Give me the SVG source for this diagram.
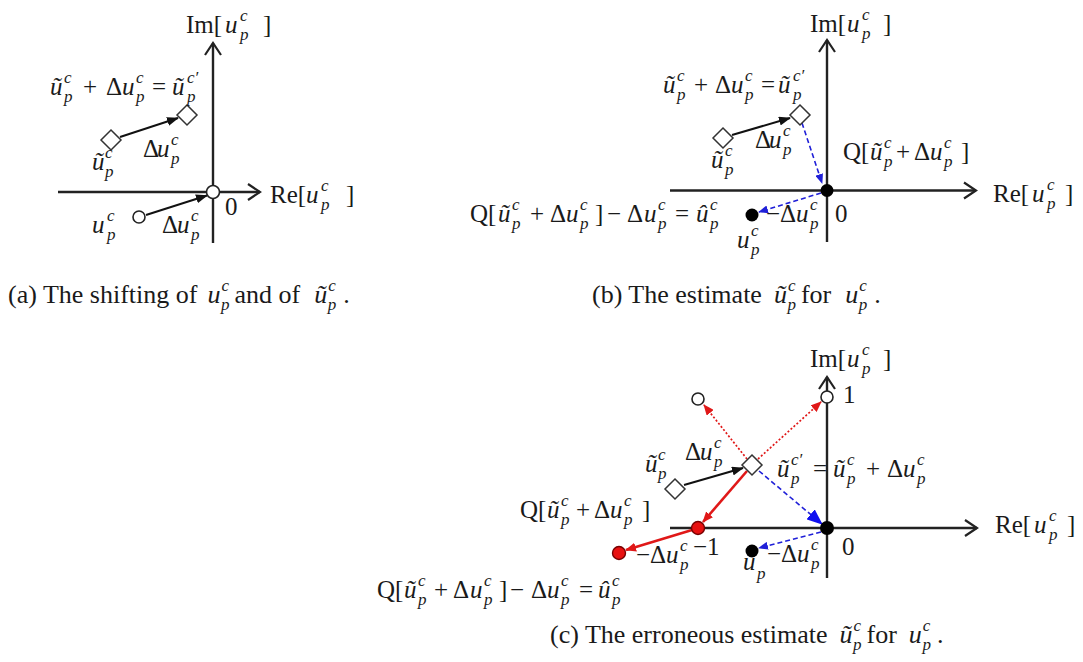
<svg xmlns="http://www.w3.org/2000/svg" width="1083" height="662" viewBox="0 0 1083 662">
<style>
.t{font-family:"Liberation Serif","Times New Roman",serif;font-size:25px;fill:#1a1a1a}
.cap{font-size:26px}
.i{font-style:italic}
.s{font-size:17px;font-style:italic}
.ax{stroke:#222;stroke-width:2.4;fill:none;marker-end:url(#axh)}
.ar{stroke:#111;stroke-width:2;fill:none;marker-end:url(#ahk)}
.bd{stroke:#2020d8;stroke-width:1.6;stroke-dasharray:5 3;fill:none}
.rd{stroke:#e01818;stroke-width:1.7;stroke-dasharray:2 2;fill:none;marker-end:url(#ahr)}
.rs{stroke:#e01818;stroke-width:2.6;fill:none;marker-end:url(#ahr)}
.dm{fill:#fff;stroke:#333;stroke-width:1.5}
.oc{fill:#fff;stroke:#222;stroke-width:1.6}
.bk{fill:#000}
.rdot{fill:#e81010;stroke:#700;stroke-width:1.4}
</style>
<defs>
<marker id="axh" markerUnits="userSpaceOnUse" markerWidth="16" markerHeight="20" viewBox="-2 -2 16 20" refX="12" refY="8" orient="auto" overflow="visible"><path d="M0,0 L12,8 L0,16" fill="none" stroke="#222" stroke-width="2.2"/></marker>
<marker id="ahk" markerUnits="userSpaceOnUse" markerWidth="12" markerHeight="9" viewBox="0 0 12 9" refX="11" refY="4.5" orient="auto"><path d="M0,0 L12,4.5 L0,9 z" fill="#111"/></marker>
<marker id="ahb" markerUnits="userSpaceOnUse" markerWidth="10" markerHeight="8" viewBox="0 0 10 8" refX="9" refY="4" orient="auto"><path d="M0,0 L10,4 L0,8 z" fill="#2020d8"/></marker>
<marker id="ahB" markerUnits="userSpaceOnUse" markerWidth="16" markerHeight="13" viewBox="0 0 16 13" refX="15" refY="6.5" orient="auto"><path d="M0,0 L16,6.5 L0,13 z" fill="#1010f0"/></marker>
<marker id="ahr" markerUnits="userSpaceOnUse" markerWidth="11" markerHeight="9" viewBox="0 0 11 9" refX="10" refY="4.5" orient="auto"><path d="M0,0 L11,4.5 L0,9 z" fill="#e01818"/></marker>
</defs>
<rect width="1083" height="662" fill="#fff"/>

<g id="axes">
<line class="ax" x1="58" y1="192" x2="260" y2="192"/>
<line class="ax" x1="213" y1="243" x2="213" y2="43"/>
<line class="ax" x1="670" y1="190.5" x2="976" y2="190.5"/>
<line class="ax" x1="827" y1="242" x2="827" y2="40"/>
<line class="ax" x1="670" y1="528" x2="977" y2="528"/>
<line class="ax" x1="827" y1="578" x2="827" y2="377"/>
</g>

<g id="connectors">
<line class="ar" x1="120" y1="137" x2="178" y2="118"/>
<line class="ar" x1="146" y1="215" x2="207" y2="195.5"/>
<line class="ar" x1="732" y1="135" x2="790" y2="118"/>
<line class="bd" x1="802" y1="123" x2="822" y2="183" marker-end="url(#ahb)"/>
<line class="bd" x1="821" y1="193" x2="759" y2="212" marker-end="url(#ahb)"/>
<line class="ar" x1="684" y1="485" x2="743" y2="468"/>
<line class="rd" x1="747" y1="459" x2="704" y2="405"/>
<line class="rd" x1="758" y1="459" x2="821" y2="402"/>
<line class="bd" x1="759" y1="471" x2="822" y2="524" marker-end="url(#ahB)"/>
<line class="rs" x1="747" y1="471" x2="703" y2="522"/>
<line class="rs" x1="692" y1="530" x2="626" y2="550"/>
<line class="bd" x1="821" y1="532" x2="759" y2="548" marker-end="url(#ahb)"/>
</g>

<g id="a-tilde-u"><polygon class="dm" points="111,130 121,140 111,150 101,140"/></g>
<g id="a-tilde-u-prime"><polygon class="dm" points="187,105 197,115 187,125 177,115"/></g>
<g id="a-u"><circle class="oc" cx="139" cy="217" r="6"/></g>
<g id="a-origin"><circle class="oc" cx="213" cy="192" r="6.5"/></g>

<g id="b-tilde-u"><polygon class="dm" points="723,128 733,138 723,148 713,138"/></g>
<g id="b-tilde-u-prime"><polygon class="dm" points="800,105 810,115 800,125 790,115"/></g>
<g id="b-origin"><circle class="bk" cx="827" cy="190.5" r="6.5"/></g>
<g id="b-u-hat"><circle class="bk" cx="752" cy="215" r="6.5"/></g>

<g id="c-one"><circle class="oc" cx="827" cy="397" r="6"/></g>
<g id="c-alt"><circle class="oc" cx="698" cy="399" r="6"/></g>
<g id="c-tilde-u"><polygon class="dm" points="675,479 685,489 675,499 665,489"/></g>
<g id="c-tilde-u-prime"><polygon class="dm" points="752,455 762,465 752,475 742,465"/></g>
<g id="c-minus-one"><circle class="rdot" cx="698" cy="528" r="6.5"/></g>
<g id="c-u-hat"><circle class="rdot" cx="619" cy="553" r="6.5"/></g>
<g id="c-origin"><circle class="bk" cx="827" cy="528" r="7"/></g>
<g id="c-u"><circle class="bk" cx="752" cy="551" r="6.5"/></g>

<g id="labels-a" class="t">
<text><tspan x="186" y="33">Im[</tspan><tspan x="225" y="33" class="i">u</tspan><tspan x="240" y="21" class="s">c</tspan><tspan x="240" y="40" class="s">p</tspan><tspan x="263" y="33">]</tspan></text>
<text><tspan x="270" y="203">Re[</tspan><tspan x="306" y="203" class="i">u</tspan><tspan x="321" y="191" class="s">c</tspan><tspan x="321" y="210" class="s">p</tspan><tspan x="346" y="203">]</tspan></text>
<text x="225" y="215">0</text>
<text><tspan x="50" y="95" class="i">ũ</tspan><tspan x="64" y="83" class="s">c</tspan><tspan x="64" y="102" class="s">p</tspan><tspan x="83" y="95">+</tspan><tspan x="106" y="95">Δ</tspan><tspan x="122" y="95" class="i">u</tspan><tspan x="136" y="83" class="s">c</tspan><tspan x="136" y="102" class="s">p</tspan><tspan x="152" y="95">=</tspan><tspan x="172" y="95" class="i">ũ</tspan><tspan x="187" y="83" class="s">c′</tspan><tspan x="187" y="102" class="s">p</tspan></text>
<text><tspan x="143" y="157">Δ</tspan><tspan x="157" y="157" class="i">u</tspan><tspan x="171" y="145" class="s">c</tspan><tspan x="171" y="164" class="s">p</tspan></text>
<text><tspan x="92" y="170" class="i">ũ</tspan><tspan x="105" y="158" class="s">c</tspan><tspan x="105" y="177" class="s">p</tspan></text>
<text><tspan x="92" y="233" class="i">u</tspan><tspan x="107" y="221" class="s">c</tspan><tspan x="107" y="240" class="s">p</tspan></text>
<text><tspan x="162" y="233">Δ</tspan><tspan x="177" y="233" class="i">u</tspan><tspan x="191" y="221" class="s">c</tspan><tspan x="191" y="240" class="s">p</tspan></text>
</g>

<g id="labels-b" class="t">
<text><tspan x="810" y="32">Im[</tspan><tspan x="847" y="32" class="i">u</tspan><tspan x="862" y="20" class="s">c</tspan><tspan x="862" y="39" class="s">p</tspan><tspan x="883" y="32">]</tspan></text>
<text><tspan x="993" y="202">Re[</tspan><tspan x="1032" y="202" class="i">u</tspan><tspan x="1047" y="190" class="s">c</tspan><tspan x="1047" y="209" class="s">p</tspan><tspan x="1065" y="202">]</tspan></text>
<text x="835" y="222">0</text>
<text><tspan x="663" y="93" class="i">ũ</tspan><tspan x="677" y="81" class="s">c</tspan><tspan x="677" y="100" class="s">p</tspan><tspan x="694" y="93">+</tspan><tspan x="715" y="93">Δ</tspan><tspan x="731" y="93" class="i">u</tspan><tspan x="745" y="81" class="s">c</tspan><tspan x="745" y="100" class="s">p</tspan><tspan x="761" y="93">=</tspan><tspan x="778" y="93" class="i">ũ</tspan><tspan x="793" y="81" class="s">c′</tspan><tspan x="793" y="100" class="s">p</tspan></text>
<text><tspan x="755" y="148">Δ</tspan><tspan x="769" y="148" class="i">u</tspan><tspan x="783" y="136" class="s">c</tspan><tspan x="783" y="155" class="s">p</tspan></text>
<text><tspan x="711" y="168" class="i">ũ</tspan><tspan x="725" y="156" class="s">c</tspan><tspan x="725" y="175" class="s">p</tspan></text>
<text><tspan x="843" y="160">Q[</tspan><tspan x="870" y="160" class="i">ũ</tspan><tspan x="884" y="148" class="s">c</tspan><tspan x="884" y="167" class="s">p</tspan><tspan x="896" y="160">+</tspan><tspan x="914" y="160">Δ</tspan><tspan x="930" y="160" class="i">u</tspan><tspan x="944" y="148" class="s">c</tspan><tspan x="944" y="167" class="s">p</tspan><tspan x="961" y="160">]</tspan></text>
<text><tspan x="470" y="222">Q[</tspan><tspan x="498" y="222" class="i">ũ</tspan><tspan x="512" y="210" class="s">c</tspan><tspan x="512" y="229" class="s">p</tspan><tspan x="530" y="222">+</tspan><tspan x="550" y="222">Δ</tspan><tspan x="566" y="222" class="i">u</tspan><tspan x="580" y="210" class="s">c</tspan><tspan x="580" y="229" class="s">p</tspan><tspan x="595" y="222">]</tspan><tspan x="607" y="222">−</tspan><tspan x="627" y="222">Δ</tspan><tspan x="644" y="222" class="i">u</tspan><tspan x="658" y="210" class="s">c</tspan><tspan x="658" y="229" class="s">p</tspan><tspan x="675" y="222">=</tspan><tspan x="696" y="222" class="i">û</tspan><tspan x="710" y="210" class="s">c</tspan><tspan x="710" y="229" class="s">p</tspan></text>
<text><tspan x="737" y="248" class="i">u</tspan><tspan x="751" y="236" class="s">c</tspan><tspan x="751" y="255" class="s">p</tspan></text>
<text><tspan x="766" y="222">−</tspan><tspan x="780" y="222">Δ</tspan><tspan x="796" y="222" class="i">u</tspan><tspan x="810" y="210" class="s">c</tspan><tspan x="810" y="229" class="s">p</tspan></text>
</g>

<g id="labels-c" class="t">
<text><tspan x="810" y="367">Im[</tspan><tspan x="847" y="367" class="i">u</tspan><tspan x="862" y="355" class="s">c</tspan><tspan x="862" y="374" class="s">p</tspan><tspan x="883" y="367">]</tspan></text>
<text x="843" y="403">1</text>
<text><tspan x="995" y="533">Re[</tspan><tspan x="1034" y="533" class="i">u</tspan><tspan x="1049" y="521" class="s">c</tspan><tspan x="1049" y="540" class="s">p</tspan><tspan x="1067" y="533">]</tspan></text>
<text x="842" y="555">0</text>
<text><tspan x="777" y="477" class="i">ũ</tspan><tspan x="791" y="465" class="s">c′</tspan><tspan x="791" y="484" class="s">p</tspan><tspan x="813" y="477">=</tspan><tspan x="833" y="477" class="i">ũ</tspan><tspan x="847" y="465" class="s">c</tspan><tspan x="847" y="484" class="s">p</tspan><tspan x="866" y="477">+</tspan><tspan x="887" y="477">Δ</tspan><tspan x="903" y="477" class="i">u</tspan><tspan x="917" y="465" class="s">c</tspan><tspan x="917" y="484" class="s">p</tspan></text>
<text><tspan x="645" y="472" class="i">ũ</tspan><tspan x="658" y="460" class="s">c</tspan><tspan x="658" y="479" class="s">p</tspan></text>
<text><tspan x="685" y="460">Δ</tspan><tspan x="700" y="460" class="i">u</tspan><tspan x="714" y="448" class="s">c</tspan><tspan x="714" y="467" class="s">p</tspan></text>
<text><tspan x="520" y="518">Q[</tspan><tspan x="547" y="518" class="i">ũ</tspan><tspan x="561" y="506" class="s">c</tspan><tspan x="561" y="525" class="s">p</tspan><tspan x="576" y="518">+</tspan><tspan x="594" y="518">Δ</tspan><tspan x="610" y="518" class="i">u</tspan><tspan x="624" y="506" class="s">c</tspan><tspan x="624" y="525" class="s">p</tspan><tspan x="642" y="518">]</tspan></text>
<text><tspan x="636" y="563">−</tspan><tspan x="650" y="563">Δ</tspan><tspan x="666" y="563" class="i">u</tspan><tspan x="680" y="551" class="s">c</tspan><tspan x="680" y="570" class="s">p</tspan></text>
<text x="693" y="555">−1</text>
<text><tspan x="743" y="570" class="i">u</tspan><tspan x="757" y="579" class="s">p</tspan></text>
<text><tspan x="767" y="562">−</tspan><tspan x="781" y="562">Δ</tspan><tspan x="797" y="562" class="i">u</tspan><tspan x="811" y="550" class="s">c</tspan><tspan x="811" y="569" class="s">p</tspan></text>
<text><tspan x="377" y="598">Q[</tspan><tspan x="404" y="598" class="i">ũ</tspan><tspan x="418" y="586" class="s">c</tspan><tspan x="418" y="605" class="s">p</tspan><tspan x="434" y="598">+</tspan><tspan x="453" y="598">Δ</tspan><tspan x="470" y="598" class="i">u</tspan><tspan x="484" y="586" class="s">c</tspan><tspan x="484" y="605" class="s">p</tspan><tspan x="499" y="598">]</tspan><tspan x="510" y="598">−</tspan><tspan x="531" y="598">Δ</tspan><tspan x="547" y="598" class="i">u</tspan><tspan x="561" y="586" class="s">c</tspan><tspan x="561" y="605" class="s">p</tspan><tspan x="579" y="598">=</tspan><tspan x="598" y="598" class="i">û</tspan><tspan x="612" y="586" class="s">c</tspan><tspan x="612" y="605" class="s">p</tspan></text>
</g>

<g id="captions" class="t cap">
<text x="8" y="303">(a) The shifting of<tspan class="i" dx="10">u</tspan><tspan class="s" dx="1" dy="-12">c</tspan><tspan class="s" dx="-8" dy="19">p</tspan><tspan dx="5" dy="-7">and of</tspan><tspan class="i" dx="14">ũ</tspan><tspan class="s" dx="1" dy="-12">c</tspan><tspan class="s" dx="-8" dy="19">p</tspan><tspan dx="7" dy="-7">.</tspan></text>
<text x="592" y="303">(b) The estimate<tspan class="i" dx="12">ũ</tspan><tspan class="s" dx="1" dy="-12">c</tspan><tspan class="s" dx="-8" dy="19">p</tspan><tspan dx="5" dy="-7">for</tspan><tspan class="i" dx="14">u</tspan><tspan class="s" dx="1" dy="-12">c</tspan><tspan class="s" dx="-8" dy="19">p</tspan><tspan dx="7" dy="-7">.</tspan></text>
<text x="550" y="643">(c) The erroneous estimate<tspan class="i" dx="12">ũ</tspan><tspan class="s" dx="1" dy="-12">c</tspan><tspan class="s" dx="-8" dy="19">p</tspan><tspan dx="5" dy="-7">for</tspan><tspan class="i" dx="12">u</tspan><tspan class="s" dx="1" dy="-12">c</tspan><tspan class="s" dx="-8" dy="19">p</tspan><tspan dx="6" dy="-7">.</tspan></text>
</g>
</svg>
